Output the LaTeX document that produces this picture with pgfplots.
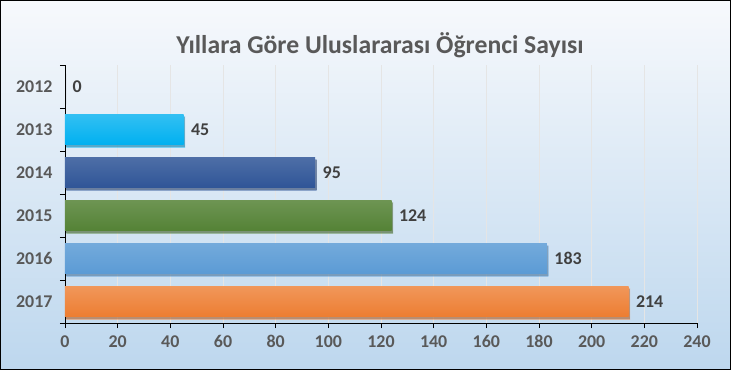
\documentclass[border=0pt]{standalone}
\usepackage{pgfplots}
\pgfplotsset{compat=1.18}
\usepackage{fontspec}
\setmainfont{Carlito}
\usetikzlibrary{shadows}
\definecolor{txt}{HTML}{595959}
\definecolor{lbl}{HTML}{404040}
\definecolor{cA}{HTML}{00B0F0}
\definecolor{cB}{HTML}{2F5597}
\definecolor{cC}{HTML}{548235}
\definecolor{cD}{HTML}{5B9BD5}
\definecolor{cE}{HTML}{ED7D31}
\definecolor{bgtop}{HTML}{F7F9FC}
\definecolor{bgbot}{HTML}{BDD7EE}
\begin{document}
\begin{tikzpicture}
\shade[top color=bgtop, bottom color=bgbot] (-65bp,-47bp) rectangle (666bp,323bp);
\draw[black, line width=0.8bp] (-64.6bp,-46.6bp) rectangle (665.6bp,322.6bp);
\begin{axis}[
  scale only axis, width=632bp, height=258bp,
  at={(0,0)}, anchor=south west,
  xbar, bar width=0.72, bar shift=0pt,
  xmin=0, xmax=240, xtick={0,20,...,240},
  ymin=-0.5, ymax=5.5,
  ytick={-0.5,0.5,1.5,2.5,3.5,4.5,5.5}, yticklabels={},
  extra y ticks={0,1,2,3,4,5},
  extra y tick labels={2017,2016,2015,2014,2013,2012},
  extra y tick style={major tick length=0pt, yticklabel style={xshift=-9bp}},
  axis x line*=bottom, axis y line*=left,
  axis line style={-, black, line width=0.8bp},
  tick align=outside, major tick length=5bp,
  tick style={black, line width=0.8bp},
  xmajorgrids, major x grid style={draw=white!80!gray, line width=0.6bp},
  ticklabel style={font=\fontsize{18}{20}\selectfont\bfseries, text=txt},
  /pgf/number format/assume math mode=true,
  xticklabel style={yshift=-4bp},
  nodes near coords,
  nodes near coords style={font=\fontsize{18}{20}\selectfont\bfseries, text=lbl, anchor=west, xshift=4bp},
  every axis plot/.append style={draw=none, bar shift=0pt,
     drop shadow={shadow xshift=1.5bp, shadow yshift=-2.5bp, opacity=0.45, fill=black!70}},
]
\addplot[bar shift=0pt, top color=cA!80!white, bottom color=cA] coordinates {(0,5)};
\addplot[bar shift=0pt, top color=cA!80!white, bottom color=cA] coordinates {(45,4)};
\addplot[bar shift=0pt, top color=cB!85!white, bottom color=cB] coordinates {(95,3)};
\addplot[bar shift=0pt, top color=cC!85!white, bottom color=cC] coordinates {(124,2)};
\addplot[bar shift=0pt, top color=cD!85!white, bottom color=cD] coordinates {(183,1)};
\addplot[bar shift=0pt, top color=cE!80!white, bottom color=cE] coordinates {(214,0)};
\end{axis}
\node[font=\fontsize{25.8}{30}\selectfont\bfseries, text=txt] at (315bp,278bp) {Yıllara Göre Uluslararası Öğrenci Sayısı};
\end{tikzpicture}
\end{document}
